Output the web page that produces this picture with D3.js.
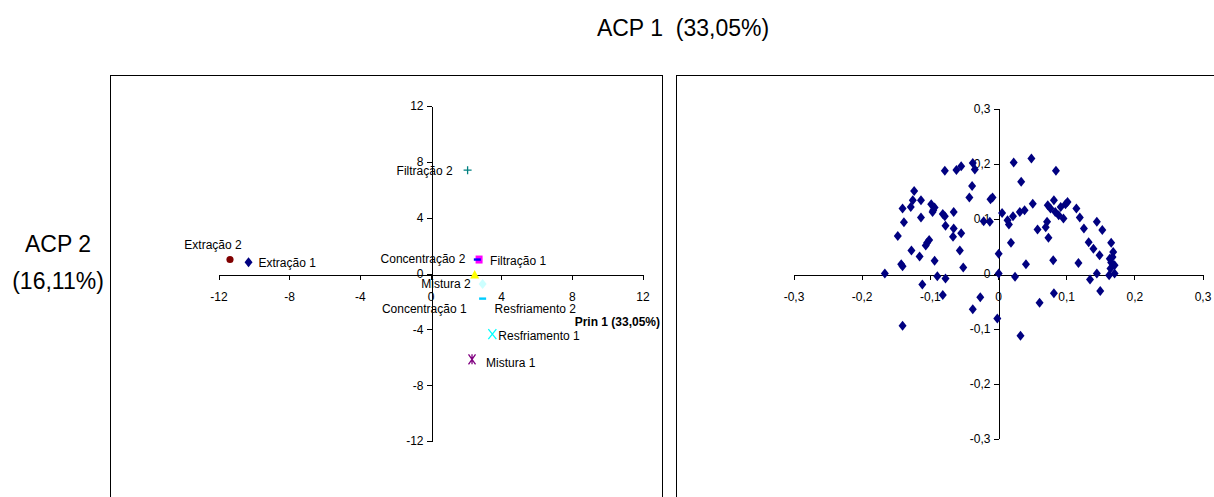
<!DOCTYPE html>
<html>
<head>
<meta charset="utf-8">
<script src="https://cdn.jsdelivr.net/npm/d3@7"></script>
<style>
  body { margin: 0; background: #fff; }
  svg { display: block; font-family: "Liberation Sans", Arial, sans-serif; }
  .axis path, .axis line { stroke: #000; shape-rendering: crispEdges; }
  .axis text { font-size: 12px; fill: #000; }
</style>
</head>
<body>
<div id="chart"></div>
<script>
// scores (left panel)
var stages = ["Extração 1", "Filtração 1", "Mistura 2", "Resfriamento 1", "Mistura 1",
              "Extração 2", "Filtração 2", "Concentração 2", "Resfriamento 2", "Concentração 1"];
var scoreX = [-10.3, 2.75, 2.5, 3.5, 2.35, -11.35, 2.1, 2.65, 2.95, 2.95];
var scoreY = [0.8, 1.0, -0.1, -4.35, -6.15, 1.0, 7.4, 1.0, -1.8, -0.75];
var scoreTicks = [-12, -8, -4, 0, 4, 8, 12];

// loadings (right panel)
var loadX = [-0.166, -0.147, -0.140, -0.138, -0.142, -0.140, -0.140, -0.127, -0.123, -0.128,
  -0.125, -0.113, -0.113, -0.115, -0.111, -0.106, -0.104, -0.101, -0.098, -0.095,
  -0.093, -0.096, -0.093, -0.089, -0.081, -0.078, -0.078, -0.077, -0.077, -0.081,
  -0.065, -0.065, -0.066, -0.061, -0.054, -0.054, -0.056, -0.051, -0.042, -0.038,
  -0.037, -0.034, -0.037, -0.026, -0.021, -0.012, -0.011, -0.008, -0.001, 0.001,
  0.001, 0.006, 0.014, 0.016, 0.019, 0.022, 0.023, 0.025, 0.032, 0.034,
  0.039, 0.041, 0.033, 0.049, 0.051, 0.058, 0.061, 0.070, 0.072, 0.074,
  0.073, 0.077, 0.081, 0.082, 0.082, 0.085, 0.084, 0.089, 0.092, 0.096,
  0.099, 0.102, 0.115, 0.120, 0.118, 0.126, 0.133, 0.135, 0.140, 0.145,
  0.145, 0.149, 0.150, 0.153, 0.166, 0.164, 0.169, 0.168, 0.165, 0.171,
  0.171, 0.163, 0.166];
var loadY = [0.000, 0.068, 0.118, 0.093, 0.017, 0.013, -0.095, 0.042, 0.150, 0.121,
  0.133, 0.133, 0.102, 0.031, -0.020, 0.051, 0.056, 0.061, 0.126, 0.115,
  0.120, 0.112, 0.023, -0.005, 0.108, 0.104, 0.187, 0.087, -0.009, -0.039,
  0.112, 0.082, 0.067, 0.188, 0.195, 0.073, 0.042, 0.011, 0.138, 0.159,
  0.201, 0.189, -0.065, -0.043, 0.095, 0.094, 0.135, 0.138, -0.082, 0.036,
  0.000, 0.110, 0.097, 0.089, 0.056, 0.104, 0.202, -0.006, 0.112, 0.167,
  0.115, 0.017, -0.113, 0.209, 0.127, 0.080, -0.053, 0.084, 0.094, 0.065,
  0.124, 0.118, 0.024, 0.133, -0.036, 0.187, 0.112, 0.106, 0.121, 0.100,
  0.126, 0.130, 0.118, 0.102, 0.019, 0.082, 0.057, -0.011, 0.045, 0.094,
  0.000, 0.033, -0.032, 0.079, 0.056, 0.027, 0.039, 0.030, 0.009, 0.015,
  0.000, -0.003, 0.020];
var loadTicks = [-0.3, -0.2, -0.1, 0, 0.1, 0.2, 0.3];

// marker style per stage, and where its label sits
var markers = [
  {shape: "diamond", color: "#000080"},
  {shape: "square", color: "#ff00ff"},
  {shape: "triangle", color: "#ffff00"},
  {shape: "x", color: "#00ffff"},
  {shape: "star", color: "#800080"},
  {shape: "circle", color: "#800000"},
  {shape: "plus", color: "#008080"},
  {shape: "dash", color: "#0000ff"},
  {shape: "dash", color: "#00ccff"},
  {shape: "diamond", color: "#ccffff"}
];
var labelPos = [
  ["start", 10, 5], ["start", 11, 5], ["end", -4, 13], ["start", 6, 6], ["start", 14, 8],
  ["middle", -17, -11], ["end", -15, 5], ["end", -12, 3], ["start", 12, 14], ["end", -16, 29]
];

var svg = d3.select("#chart").append("svg")
  .attr("width", 1214)
  .attr("height", 497);

svg.append("rect").attr("width", 1214).attr("height", 497).attr("fill", "#fff");

// titles
svg.append("text")
  .attr("x", 683).attr("y", 36)
  .attr("text-anchor", "middle")
  .attr("font-size", "23px")
  .attr("xml:space", "preserve")
  .text("ACP 1  (33,05%)");

svg.append("text")
  .attr("x", 58).attr("y", 252)
  .attr("text-anchor", "middle")
  .attr("font-size", "23px")
  .text("ACP 2");

svg.append("text")
  .attr("x", 58).attr("y", 289)
  .attr("text-anchor", "middle")
  .attr("font-size", "23px")
  .text("(16,11%)");

// panel frames
svg.append("rect")
  .attr("x", 110.5).attr("y", 75.5).attr("width", 552).attr("height", 440)
  .attr("fill", "none").attr("stroke", "#000");
svg.append("rect")
  .attr("x", 676.5).attr("y", 75.5).attr("width", 560).attr("height", 440)
  .attr("fill", "none").attr("stroke", "#000");

var plain = function(d) { return String(d); };
var comma = function(d) { return d === 0 ? "0" : d.toFixed(1).replace(".", ","); };

// ---------- left panel: scores ----------
var x1 = d3.scaleLinear().domain([-12, 12]).range([218.5, 642.5]);
var y1 = d3.scaleLinear().domain([-12, 12]).range([441, 106]);

var left = svg.append("g");

left.append("g")
  .attr("class", "axis")
  .attr("transform", `translate(0, ${Math.round(y1(0)) + 0.5})`)
  .call(d3.axisBottom(x1).tickValues(scoreTicks).tickFormat(plain).tickSize(5).tickSizeOuter(0).tickPadding(13));

left.append("g")
  .attr("class", "axis")
  .attr("transform", `translate(${Math.round(x1(0)) + 0.5}, 0)`)
  .call(d3.axisLeft(y1).tickValues(scoreTicks).tickFormat(plain).tickSize(5).tickSizeOuter(0).tickPadding(3));

function markerPath(shape) {
  switch (shape) {
    case "diamond": return "M0,-5L4,0L0,5L-4,0Z";
    case "square": return "M-3.5,-4H3.5V4H-3.5Z";
    case "triangle": return "M0,-5L4.5,3.5H-4.5Z";
    case "circle": return d3.symbol(d3.symbolCircle, 40)();
    case "x": return "M-4,-5L4,5M4,-5L-4,5";
    case "star": return "M-3.5,-5L3.5,5M3.5,-5L-3.5,5M0,-5V5";
    case "plus": return "M-4,0H4M0,-4V4";
    case "dash": return "M-3.5,-1.2H3.5V1.2H-3.5Z";
  }
}

var lineShapes = ["x", "star", "plus"];

var pts = left.selectAll(".score")
  .data(stages)
  .enter()
  .append("g")
  .attr("class", "score")
  .attr("transform", (d, i) => `translate(${x1(scoreX[i])}, ${y1(scoreY[i])})`);

pts.append("path")
  .attr("d", (d, i) => markerPath(markers[i].shape))
  .attr("fill", (d, i) => lineShapes.includes(markers[i].shape) ? "none" : markers[i].color)
  .attr("stroke", (d, i) => lineShapes.includes(markers[i].shape) ? markers[i].color : "none")
  .attr("stroke-width", 1.3);

pts.append("text")
  .attr("x", (d, i) => labelPos[i][1])
  .attr("y", (d, i) => labelPos[i][2])
  .attr("text-anchor", (d, i) => labelPos[i][0])
  .attr("font-size", "12px")
  .text(d => d);

left.append("text")
  .attr("x", 660).attr("y", 326)
  .attr("text-anchor", "end")
  .attr("font-size", "12px")
  .attr("font-weight", "bold")
  .text("Prin 1 (33,05%)");

// ---------- right panel: loadings ----------
var x2 = d3.scaleLinear().domain([-0.3, 0.3]).range([793.5, 1202.5]);
var y2 = d3.scaleLinear().domain([-0.3, 0.3]).range([438.5, 108.5]);

var right = svg.append("g");

right.append("g")
  .attr("class", "axis")
  .attr("transform", `translate(0, ${Math.round(y2(0)) + 0.5})`)
  .call(d3.axisBottom(x2).tickValues(loadTicks).tickFormat(comma).tickSize(5).tickSizeOuter(0).tickPadding(13));

right.append("g")
  .attr("class", "axis")
  .attr("transform", `translate(${Math.round(x2(0)) + 0.5}, 0)`)
  .call(d3.axisLeft(y2).tickValues(loadTicks).tickFormat(comma).tickSize(5).tickSizeOuter(0).tickPadding(3));

right.selectAll(".load")
  .data(loadX)
  .enter()
  .append("path")
  .attr("class", "load")
  .attr("transform", (d, i) => `translate(${x2(d)}, ${y2(loadY[i])})`)
  .attr("d", "M0,-5L4,0L0,5L-4,0Z")
  .attr("fill", "#000080");
</script>
</body>
</html>
